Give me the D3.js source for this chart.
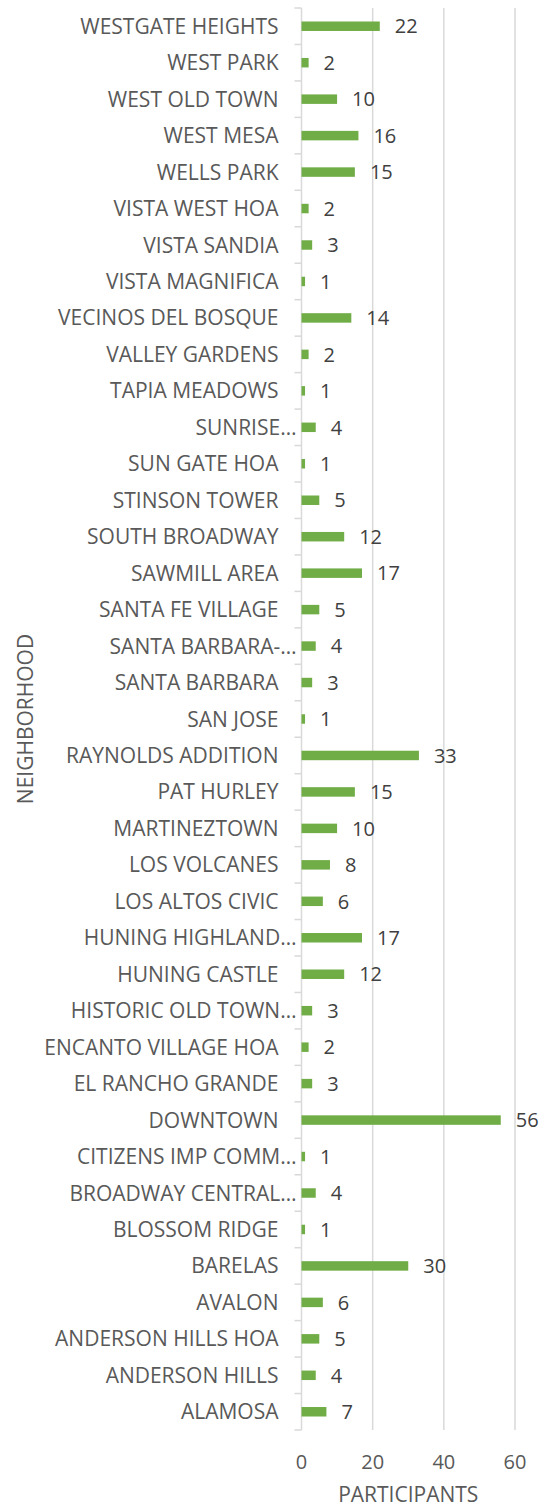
<!DOCTYPE html>
<html>
<head>
  <meta charset="utf-8">
  <script src="https://cdn.jsdelivr.net/npm/d3@7/dist/d3.min.js"></script>
  <style>
    body { margin: 0; background: #fff; }
    svg text { font-family: "Open Sans", sans-serif; }
    .cat { fill: #595959; font-size: 21px; }
    .val { fill: #404040; font-size: 20px; }
    .tick-x { fill: #595959; font-size: 20px; }
    .title { fill: #595959; font-size: 21px; }
  </style>
</head>
<body>
  <svg id="chart" width="549" height="1509"></svg>
  <script>
    var neighborhoods = [
      'WESTGATE HEIGHTS', 'WEST PARK', 'WEST OLD TOWN', 'WEST MESA', 'WELLS PARK',
      'VISTA WEST HOA', 'VISTA SANDIA', 'VISTA MAGNIFICA', 'VECINOS DEL BOSQUE', 'VALLEY GARDENS',
      'TAPIA MEADOWS', 'SUNRISE…', 'SUN GATE HOA', 'STINSON TOWER', 'SOUTH BROADWAY',
      'SAWMILL AREA', 'SANTA FE VILLAGE', 'SANTA BARBARA-…', 'SANTA BARBARA', 'SAN JOSE',
      'RAYNOLDS ADDITION', 'PAT HURLEY', 'MARTINEZTOWN', 'LOS VOLCANES', 'LOS ALTOS CIVIC',
      'HUNING HIGHLAND…', 'HUNING CASTLE', 'HISTORIC OLD TOWN…', 'ENCANTO VILLAGE HOA', 'EL RANCHO GRANDE',
      'DOWNTOWN', 'CITIZENS IMP COMM…', 'BROADWAY CENTRAL…', 'BLOSSOM RIDGE', 'BARELAS',
      'AVALON', 'ANDERSON HILLS HOA', 'ANDERSON HILLS', 'ALAMOSA'
    ];
    var participants = [
      22, 2, 10, 16, 15,
      2, 3, 1, 14, 2,
      1, 4, 1, 5, 12,
      17, 5, 4, 3, 1,
      33, 15, 10, 8, 6,
      17, 12, 3, 2, 3,
      56, 1, 4, 1, 30,
      6, 5, 4, 7
    ];
    var xTicks = [0, 20, 40, 60];

    var plotL = 301.5, plotR = 515, plotT = 8, plotB = 1430;
    var grid = '#d9d9d9';

    var svg = d3.select('#chart');

    var x = d3.scaleLinear().domain([0, 60]).range([plotL, plotR]);
    var y = d3.scaleBand().domain(neighborhoods).range([plotT, plotB]).paddingInner(0.74).paddingOuter(0.37);
    var step = y.step();

    // gridlines
    svg.selectAll('line.grid')
      .data(xTicks.slice(1))
      .enter().append('line')
      .attr('x1', d => x(d)).attr('x2', d => x(d))
      .attr('y1', plotT).attr('y2', plotB)
      .attr('stroke', grid).attr('stroke-width', 1.5);

    // category axis line + ticks between bands
    svg.append('line')
      .attr('x1', plotL).attr('x2', plotL)
      .attr('y1', plotT).attr('y2', plotB)
      .attr('stroke', grid).attr('stroke-width', 1.5);

    svg.selectAll('line.tk')
      .data(d3.range(neighborhoods.length + 1))
      .enter().append('line')
      .attr('x1', plotL - 7).attr('x2', plotL)
      .attr('y1', i => plotT + i * step).attr('y2', i => plotT + i * step)
      .attr('stroke', grid).attr('stroke-width', 1.5);

    // bars
    svg.selectAll('rect.bar')
      .data(neighborhoods)
      .enter().append('rect')
      .attr('x', x(0))
      .attr('y', d => y(d))
      .attr('width', (d, i) => x(participants[i]) - x(0))
      .attr('height', y.bandwidth())
      .attr('fill', '#70ad47');

    // value labels
    svg.selectAll('text.val')
      .data(neighborhoods)
      .enter().append('text')
      .attr('class', 'val')
      .attr('x', (d, i) => x(participants[i]) + 15)
      .attr('y', d => y(d) + y.bandwidth() / 2)
      .attr('dy', '0.36em')
      .text((d, i) => participants[i]);

    // category labels (truncated ones sit closer to the axis)
    svg.selectAll('text.cat')
      .data(neighborhoods)
      .enter().append('text')
      .attr('class', 'cat')
      .attr('text-anchor', 'end')
      .attr('x', d => d.endsWith('…') ? plotL - 5 : plotL - 23)
      .attr('y', d => y(d) + y.bandwidth() / 2)
      .attr('dy', '0.36em')
      .text(d => d);

    // x tick labels
    svg.selectAll('text.tick-x')
      .data(xTicks)
      .enter().append('text')
      .attr('class', 'tick-x')
      .attr('text-anchor', 'middle')
      .attr('x', d => x(d))
      .attr('y', 1462)
      .attr('dy', '0.36em')
      .text(d => d);

    svg.append('text')
      .attr('class', 'title')
      .attr('text-anchor', 'middle')
      .attr('x', (plotL + plotR) / 2)
      .attr('y', 1494)
      .attr('dy', '0.36em')
      .text('PARTICIPANTS');

    svg.append('text')
      .attr('class', 'title')
      .attr('text-anchor', 'middle')
      .attr('transform', 'translate(25,' + (plotT + plotB) / 2 + ') rotate(-90)')
      .attr('dy', '0.36em')
      .text('NEIGHBORHOOD');
  </script>
</body>
</html>
